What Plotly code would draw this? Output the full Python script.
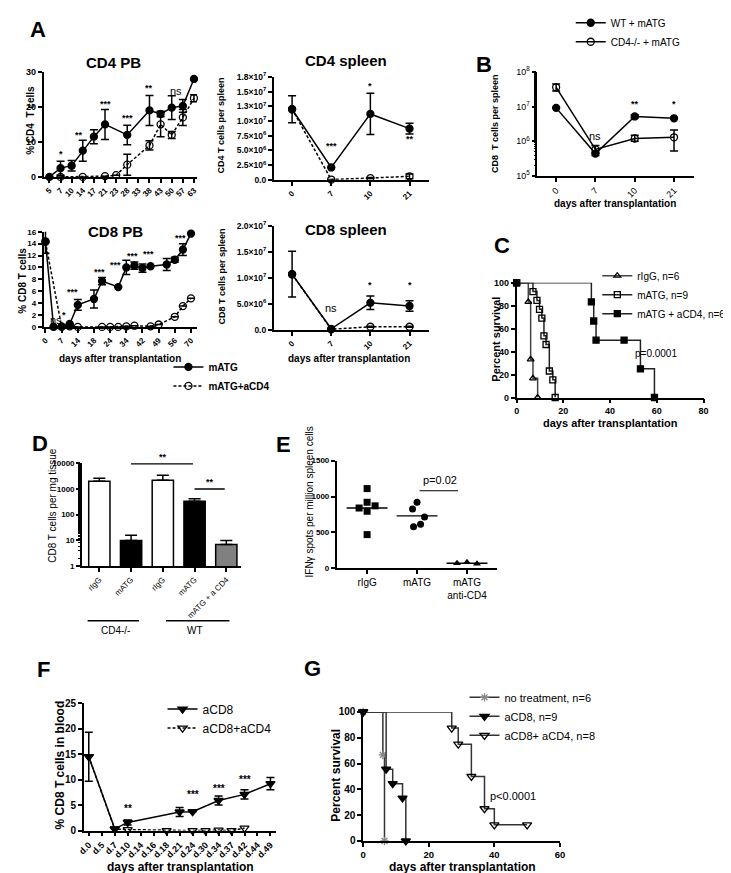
import math
import plotly.graph_objects as go

W, H = 731, 873
FONT = "Liberation Sans, Arial, sans-serif"

# ---------------- DATA ----------------
# A: CD4 PB (% CD4 T cells)
cd4pb_days = ["5", "7", "10", "14", "17", "21", "23", "28", "33", "38", "43", "50", "57", "63"]
cd4pb_matg = [0, 2.5, 3.2, 7.5, 11.5, 15, None, 12, None, 19, 18, 19.8, 20.3, 28]
cd4pb_matg_err = [0, 2.0, 1.5, 3.0, 2.0, 4.3, 0, 2.8, 0, 4.3, 0.8, 3.4, 1.8, 0]
cd4pb_acd4 = [None, 0, None, 0, None, 0.2, 0.5, 3.5, None, 9, 15, 12, 17, 22.5]
cd4pb_acd4_err = [0, 0, 0, 0, 0, 0, 0, 3.0, 0, 1.3, 3.5, 1.0, 2.3, 1.0]
cd4pb_sig = [("*", 1, 6.4), ("**", 2.7, 12.1), ("***", 5, 20.7), ("***", 7, 16.8), ("**", 9, 25.5), ("ns", 11.35, 24.7)]

# A: CD4 spleen
spl_days = ["0", "7", "10", "21"]
cd4spl_matg = [1.2e7, 2.1e6, 1.12e7, 8.7e6]
cd4spl_matg_err = [2.3e6, 0, 3.5e6, 0.9e6]
cd4spl_acd4 = [1.2e7, 0.05e6, 0.3e6, 0.6e6]
cd4spl_acd4_err = [0, 0, 0.1e6, 0.4e6]
cd4spl_sig = [("***", 1, 5.8e6), ("*", 2, 15.9e6), ("**", 3, 6.9e6)]

# A: CD8 PB (% CD8 T cells)
cd8pb_days = ["0", "5", "7", "10", "14", "16", "18", "21", "24", "30", "34", "37", "42", "44", "49", "51", "56", "63", "70"]
cd8pb_matg = [14.4, 0, 0.1, 0.5, 3.7, None, 4.7, 7.7, None, 6.7, 10.0, 10.3, 9.9, 10.2, None, 10.5, 11.3, 13.0, 15.7]
cd8pb_matg_err = [2.0, 0, 0, 0, 0.9, 0, 1.5, 0.6, 0, 0, 1.2, 0.6, 0.7, 0, 0, 1.0, 0.4, 1.0, 0]
cd8pb_acd4 = [14.3, None, 0, 0.1, 0, None, None, 0, 0, 0, 0.1, 0.2, None, 0.1, 0.4, None, 1.7, 3.5, 4.8]
cd8pb_acd4_err = [0] * 19
cd8pb_sig = [("ns", 1.27, 1.2), ("*", 2.3, 2.0), ("***", 3.3, 5.8), ("***", 6.7, 9.2), ("***", 8.7, 10.4),
             ("***", 10.8, 11.9), ("***", 12.8, 12.2), ("***", 16.7, 14.9)]

# A: CD8 spleen
cd8spl_matg = [1.07e7, 0.2e6, 5.2e6, 4.6e6]
cd8spl_matg_err = [4.4e6, 0, 1.3e6, 1.0e6]
cd8spl_acd4 = [1.07e7, 0.1e6, 0.6e6, 0.6e6]
cd8spl_acd4_err = [0, 0, 0.1e6, 0.1e6]
cd8spl_sig = [("ns", 1, 4.3e6), ("*", 2, 8.6e6), ("*", 3, 8.6e6)]

# B: CD8 T cells per spleen (log)
b_days = ["0", "7", "10", "21"]
b_wt = [9.2e6, 4.4e5, 5.2e6, 4.6e6]
b_wt_up = [0, 0.5e5, 0.6e6, 0]
b_wt_dn = [0, 0.5e5, 0.5e6, 0]
b_ko = [3.6e7, 5.8e5, 1.2e6, 1.3e6]
b_ko_up = [0.9e7, 1.7e5, 0.3e6, 0.8e6]
b_ko_dn = [0.8e7, 1.3e5, 0.2e6, 0.78e6]
b_sig = [("ns", 1, 1.4e6), ("**", 2, 1.2e7), ("*", 3, 1.2e7)]

# C: survival
c_rigg_t = [0, 5, 6, 7, 9]
c_rigg_s = [100, 83.3, 33.3, 16.7, 0]
c_matg_t = [0, 7, 8.7, 9.8, 10.8, 11.7, 12.6, 14, 15.5, 16.5]
c_matg_s = [100, 92.3, 84.6, 76.9, 69.2, 53.8, 46.2, 23.1, 15.4, 0]
c_acd4_t = [0, 32, 33, 34, 46, 53, 59]
c_acd4_s = [100, 83.3, 66.7, 50, 50, 25, 0]

# D: CD8 T cells per mg tissue
d_labels = ["rIgG", "mATG", "rIgG", "mATG", "mATG + a CD4"]
d_values = [2000, 10, 2200, 330, 7]
d_err = [600, 6, 1200, 90, 3]
d_colors = ["white", "black", "white", "black", "#808080"]

# E: IFNg spots
e_cats = ["rIgG", "mATG", "mATG<br>anti-CD4"]
e_rigg = [1110, 840, 920, 870, 795, 470]
e_rigg_jit = [0, -0.16, 0, 0.16, 0, 0]
e_matg = [920, 825, 715, 580, 615]
e_matg_jit = [0, -0.09, 0.15, -0.07, 0.07]
e_acd4 = [70, 85, 65]
e_acd4_jit = [-0.2, 0, 0.2]
e_medians = [840, 730, 72]

# F: % CD8 T cells in blood
f_days = ["d.0", "d.5", "d.7", "d.10", "d.14", "d.16", "d.18", "d.21", "d.24", "d.30", "d.34", "d.37", "d.42", "d.44", "d.49"]
f_acd8 = [14.5, None, 0.35, 1.6, None, None, None, 3.65, 3.7, None, 5.9, None, 7.1, None, 9.2]
f_acd8_err = [4.8, 0, 0, 0.5, 0, 0, 0, 0.9, 0, 0, 0.9, 0, 0.9, 0, 1.2]
f_both = [14.5, None, 0.3, 0.2, None, None, 0, None, 0, 0, 0.1, 0, 0.5, None, None]
f_sig = [("**", 3, 4.3), ("***", 8, 7.1), ("***", 10, 8.3), ("***", 12, 10.1)]

# G: survival
g_none_t = [0, 6, 6.5]
g_none_s = [100, 66.7, 0]
g_acd8_t = [0, 7, 9, 12, 13]
g_acd8_s = [100, 55.6, 44.4, 33.3, 0]
g_both_t = [0, 27, 29, 33, 37, 40, 50]
g_both_s = [100, 87.5, 75, 50, 25, 12.5, 12.5]

# ---------------- HELPERS ----------------
def PX(p):
    return p / W


def PY(p):
    return 1 - p / H


def TF(size, bold=True):
    return dict(family=FONT, size=size, color="#000000", weight="bold" if bold else "normal")


layout = dict(width=W, height=H, margin=dict(l=0, r=0, t=0, b=0),
              paper_bgcolor="white", plot_bgcolor="white",
              font=dict(family=FONT, color="black"), annotations=[], shapes=[])


def set_axes(n, xl, xr, yt, yb, xrange, yrange, xkw=None, ykw=None):
    base = dict(showline=True, linecolor="black", linewidth=1.5, ticks="outside", ticklen=4,
                tickwidth=1.5, tickcolor="black", showgrid=False, zeroline=False)
    s = "" if n == 1 else str(n)
    xa = dict(base, domain=[PX(xl), PX(xr)], range=xrange, anchor="y" + s)
    ya = dict(base, domain=[PY(yb), PY(yt)], range=yrange, anchor="x" + s)
    xa.update(xkw or {})
    ya.update(ykw or {})
    layout["xaxis" + s] = xa
    layout["yaxis" + s] = ya


def ann(text, x, y, size, bold=True, angle=0, xanchor="center", yanchor="middle"):
    layout["annotations"].append(dict(text=text, x=PX(x), y=PY(y), xref="paper", yref="paper",
                                      showarrow=False, font=TF(size, bold), textangle=angle,
                                      xanchor=xanchor, yanchor=yanchor))


def sig(text, n, x, y, size=9, bold=True):
    s = "" if n == 1 else str(n)
    if text == "ns":
        size, bold = 11, False
    layout["annotations"].append(dict(text=text, x=x, y=y, xref="x" + s, yref="y" + s,
                                      showarrow=False, font=TF(size, bold)))


traces = []


def series(x, y, up, dn, n, name, symbol, color, dash="solid", legend="legend", showlegend=False,
           size=7, shape="linear", lcolor="black"):
    s = "" if n == 1 else str(n)
    t = go.Scatter(x=x, y=y, xaxis="x" + s, yaxis="y" + s, mode="lines+markers", name=name,
                   connectgaps=True, cliponaxis=False, line=dict(color=lcolor, width=1.5, dash=dash, shape=shape),
                   marker=dict(symbol=symbol, size=size, color=color, line=dict(color="black", width=1.3)),
                   legend=legend, showlegend=showlegend)
    if up is not None:
        t.error_y = dict(type="data", symmetric=False, array=up, arrayminus=dn, color="black",
                         thickness=1.5, width=4)
    traces.append(t)


DASH = "3px,2px"

# ---------------- A: CD4 PB ----------------
cat = lambda arr: dict(type="category", categoryorder="array", categoryarray=arr)
set_axes(1, 29, 185, 53, 160, [-0.53, 13.27], [0, 30],
         xkw=dict(cat(cd4pb_days), tickangle=-45, tickfont=TF(8)),
         ykw=dict(tickvals=[0, 10, 20, 30], tickfont=TF(9)))
series(cd4pb_days, cd4pb_matg, cd4pb_matg_err, cd4pb_matg_err, 1, "mATG", "circle", "black", showlegend=True)
series(cd4pb_days, cd4pb_acd4, cd4pb_acd4_err, cd4pb_acd4_err, 1, "mATG+aCD4", "circle-open", "black",
       dash=DASH, showlegend=True)
for s_, x_, y_ in cd4pb_sig:
    sig(s_, 1, x_, y_)

# ---------------- A: CD4 spleen ----------------
spl4_ticks = [0, 2.5e6, 5e6, 7.5e6, 1e7, 1.25e7, 1.5e7, 1.75e7]
spl4_text = ["0.0", "2.5×10<sup>6</sup>", "5.0×10<sup>6</sup>", "7.5×10<sup>6</sup>", "1.0×10<sup>7</sup>",
             "1.3×10<sup>7</sup>", "1.5×10<sup>7</sup>", "1.8×10<sup>7</sup>"]
set_axes(2, 263, 421, 58, 163, [-0.47, 3.5], [0, 1.75e7],
         xkw=dict(cat(spl_days), tickangle=-45, tickfont=TF(8)),
         ykw=dict(tickvals=spl4_ticks, ticktext=spl4_text, tickfont=TF(8.5)))
series(spl_days, cd4spl_matg, cd4spl_matg_err, cd4spl_matg_err, 2, "mATG", "circle", "black")
series(spl_days, cd4spl_acd4, cd4spl_acd4_err, cd4spl_acd4_err, 2, "mATG+aCD4", "circle-open", "black", dash=DASH)
for s_, x_, y_ in cd4spl_sig:
    sig(s_, 2, x_, y_)

# ---------------- A: CD8 PB ----------------
set_axes(3, 29, 185, 216, 313, [-0.24, 18.74], [0, 16],
         xkw=dict(cat(cd8pb_days), tickangle=-45, tickfont=TF(8)),
         ykw=dict(tickvals=list(range(0, 17, 2)), tickfont=TF(8)))
series(cd8pb_days, cd8pb_matg, cd8pb_matg_err, cd8pb_matg_err, 3, "mATG", "circle", "black")
series(cd8pb_days, cd8pb_acd4, cd8pb_acd4_err, cd8pb_acd4_err, 3, "mATG+aCD4", "circle-open", "black", dash=DASH)
for s_, x_, y_ in cd8pb_sig:
    sig(s_, 3, x_, y_)

# ---------------- A: CD8 spleen ----------------
spl8_ticks = [0, 5e6, 1e7, 1.5e7, 2e7]
spl8_text = ["0.0", "5.0×10<sup>6</sup>", "1.0×10<sup>7</sup>", "1.5×10<sup>7</sup>", "2.0×10<sup>7</sup>"]
set_axes(4, 263, 421, 210, 316, [-0.47, 3.5], [0, 2e7],
         xkw=dict(cat(spl_days), tickangle=-45, tickfont=TF(8)),
         ykw=dict(tickvals=spl8_ticks, ticktext=spl8_text, tickfont=TF(8.5)))
series(spl_days, cd8spl_matg, cd8spl_matg_err, cd8spl_matg_err, 4, "mATG", "circle", "black")
series(spl_days, cd8spl_acd4, cd8spl_acd4_err, cd8spl_acd4_err, 4, "mATG+aCD4", "circle-open", "black", dash=DASH)
for s_, x_, y_ in cd8spl_sig:
    sig(s_, 4, x_, y_)

# ---------------- B ----------------
set_axes(5, 531, 690, 53, 159, [-0.48, 3.5], [5, 8],
         xkw=dict(cat(b_days), tickangle=-45, tickfont=TF(9, False)),
         ykw=dict(type="log", tickvals=[1e5, 1e6, 1e7, 1e8],
                  ticktext=["10<sup>5</sup>", "10<sup>6</sup>", "10<sup>7</sup>", "10<sup>8</sup>"],
                  tickfont=TF(9, False),
                  minor=dict(ticks="outside", ticklen=2, tickwidth=1, tickcolor="black", showgrid=False)))
series(b_days, b_wt, b_wt_up, b_wt_dn, 5, "WT + mATG", "circle", "black", legend="legend2", showlegend=True)
series(b_days, b_ko, b_ko_up, b_ko_dn, 5, "CD4-/- + mATG", "circle-open", "black", legend="legend2", showlegend=True)
for s_, x_, y_ in b_sig:
    sig(s_, 5, x_, math.log10(y_))

# ---------------- C ----------------
set_axes(6, 510, 700, 268, 385, [0, 80], [0, 100],
         xkw=dict(tickvals=[0, 20, 40, 60, 80], tickfont=TF(9)),
         ykw=dict(tickvals=[0, 20, 40, 60, 80, 100], tickfont=TF(9)))
series(c_rigg_t, c_rigg_s, None, None, 6, "rIgG, n=6", "triangle-up-open", "black", legend="legend3",
       showlegend=True, size=6, shape="hv", lcolor="#444")
series(c_matg_t, c_matg_s, None, None, 6, "mATG, n=9", "square-open", "black", legend="legend3",
       showlegend=True, size=6, shape="hv", lcolor="#222")
series(c_acd4_t, c_acd4_s, None, None, 6, "mATG + aCD4, n=6", "square", "black", legend="legend3",
       showlegend=True, size=6, shape="hv", lcolor="#222")
layout["annotations"].append(dict(text="p=0.0001", x=50, y=38, xref="x6", yref="y6", showarrow=False,
                                  font=TF(10, False), xanchor="left"))

# ---------------- D ----------------
set_axes(7, 68, 230, 452, 557, [-0.55, 4.47], [0, 4],
         xkw=dict(tickvals=list(range(5)), ticktext=d_labels, tickangle=-45, tickfont=TF(8, False)),
         ykw=dict(type="log", tickvals=[1, 10, 100, 1000, 10000], ticktext=["1", "10", "100", "1000", "10000"],
                  tickfont=TF(8), minor=dict(ticks="outside", ticklen=2, tickwidth=1, tickcolor="black",
                                             showgrid=False)))
traces.append(go.Bar(x=list(range(5)), y=d_values, xaxis="x7", yaxis="y7", width=0.67,
                     marker=dict(color=d_colors, line=dict(color="black", width=1.5)),
                     error_y=dict(type="data", symmetric=False, array=d_err, arrayminus=[0] * 5,
                                  color="black", thickness=1.5, width=6), showlegend=False))
for x0, x1, ypx, txt in [(1, 3, 452.7, "**"), (3, 4, 478.3, "**")]:
    layout["shapes"].append(dict(type="line", xref="x7", yref="paper", x0=x0, x1=x1 - 0.05, y0=PY(ypx),
                                 y1=PY(ypx), line=dict(color="black", width=1.3)))
    layout["annotations"].append(dict(text=txt, x=(x0 + x1) / 2, y=PY(ypx - 7), xref="x7", yref="paper",
                                      showarrow=False, font=TF(9)))
for x0, x1, txt, xc in [(-0.37, 1.25, "CD4-/-", 102), (2.1, 4.1, "WT", 183)]:
    layout["shapes"].append(dict(type="line", xref="x7", yref="paper", x0=x0, x1=x1, y0=PY(612.7),
                                 y1=PY(612.7), line=dict(color="black", width=1.5)))
    ann(txt, xc, 623, 10, bold=False)

# ---------------- E ----------------
set_axes(8, 327, 490, 449.3, 559.3, [-0.61, 2.6], [0, 1500],
         xkw=dict(tickvals=[0, 1, 2], ticktext=e_cats, tickfont=TF(10, False)),
         ykw=dict(tickvals=[0, 500, 1000, 1500], tickfont=TF(8)))
for i, (vals, jit, sym) in enumerate([(e_rigg, e_rigg_jit, "square"), (e_matg, e_matg_jit, "circle"),
                                      (e_acd4, e_acd4_jit, "triangle-up")]):
    traces.append(go.Scatter(x=[i + j for j in jit], y=vals, xaxis="x8", yaxis="y8", mode="markers",
                             marker=dict(symbol=sym, size=7, color="black"), showlegend=False, cliponaxis=False))
    traces.append(go.Scatter(x=[i - 0.41, i + 0.41], y=[e_medians[i]] * 2, xaxis="x8", yaxis="y8",
                             mode="lines", line=dict(color="black", width=1.3), showlegend=False))
layout["shapes"].append(dict(type="line", xref="x8", yref="y8", x0=1.05, x1=1.82, y0=1080, y1=1080,
                             line=dict(color="black", width=1)))
layout["annotations"].append(dict(text="p=0.02", x=1.45, y=1230, xref="x8", yref="y8", showarrow=False,
                                  font=TF(11, False)))

# ---------------- F ----------------
set_axes(9, 70, 265, 696.7, 826.7, [-0.38, 14.4], [0, 25],
         xkw=dict(cat(f_days), tickangle=-45, tickfont=TF(9)),
         ykw=dict(tickvals=[0, 5, 10, 15, 20, 25], tickfont=TF(10)))
series(f_days, f_acd8, f_acd8_err, f_acd8_err, 9, "aCD8", "triangle-down", "black", legend="legend4",
       showlegend=True, size=8)
series(f_days, f_both, None, None, 9, "aCD8+aCD4", "triangle-down-open", "black", dash=DASH,
       legend="legend4", showlegend=True, size=8)
for s_, x_, y_ in f_sig:
    sig(s_, 9, x_, y_, size=10)

# ---------------- G ----------------
set_axes(10, 354, 554, 705.7, 837.3, [0, 60], [0, 100],
         xkw=dict(tickvals=[0, 20, 40, 60], tickfont=TF(9.5)),
         ykw=dict(tickvals=[0, 20, 40, 60, 80, 100], tickfont=TF(10)))
series(g_none_t, g_none_s, None, None, 10, "no treatment, n=6", "asterisk-open", "#888", legend="legend5",
       showlegend=True, size=7, shape="hv", lcolor="#333")
series(g_acd8_t, g_acd8_s, None, None, 10, "aCD8, n=9", "triangle-down", "black", legend="legend5",
       showlegend=True, size=8, shape="hv", lcolor="#333")
series(g_both_t, g_both_s, None, None, 10, "aCD8+ aCD4, n=8", "triangle-down-open", "black", legend="legend5",
       showlegend=True, size=8, shape="hv", lcolor="#333")
layout["annotations"].append(dict(text="p<0.0001", x=38, y=35, xref="x10", yref="y10", showarrow=False,
                                  font=TF(11, False), xanchor="left"))

# ---------------- Legends ----------------
def legend(xtext, ytop, size, bold):
    return dict(x=PX(xtext - 40), y=PY(ytop), xanchor="left", yanchor="top", bgcolor="rgba(0,0,0,0)",
                font=TF(size, bold), itemwidth=30, tracegroupgap=0)


layout["legend"] = legend(196, 339, 10, True)
layout["legend2"] = legend(605, -12, 10, False)
layout["legend3"] = legend(632, 246, 10, False)
layout["legend4"] = legend(190, 688, 12, False)
layout["legend5"] = legend(497, 676, 11, False)

# ---------------- Text: panel letters, titles, axis titles ----------------
for L, x, y in [("A", 23.5, 10), ("B", 477, 45), ("C", 495, 230), ("D", 25, 432), ("E", 272.5, 433),
                ("F", 29, 662), ("G", 302.5, 661)]:
    ann(L, x, y, 22)
for T, x, y in [("CD4 PB", 100, 43), ("CD4 spleen", 337, 41), ("CD8 PB", 102, 216), ("CD8 spleen", 337, 214)]:
    ann(T, x, y, 15)
for x, y, s in [(107, 345, 10), (340, 345, 10), (610, 187, 10), (605, 411, 11), (168, 864, 12), (455, 864, 12)]:
    ann("days after transplantation", x, y, s)
ann("% CD4  T cells", 15, 102, 10, angle=-90)
ann("CD4 T cells per spleen", 209, 108, 9, angle=-90)
ann("% CD8 T cells", 8, 266, 10, angle=-90)
ann("CD8 T cells per spleen", 210, 262, 9, angle=-90)
ann("CD8  T cells per spleen", 488, 105, 9, angle=-90)
ann("Percent survival", 489, 325, 11, angle=-90)
ann("CD8 T cells per mg tissue", 38, 495, 10, bold=False, angle=-90)
ann("IFNγ spots per million spleen cells", 299, 492, 10, bold=False, angle=-90)
ann("% CD8 T cells in blood", 46, 760, 12, angle=-90)
ann("Percent survival", 326, 770, 12, angle=-90)

fig = go.Figure(data=traces)
fig.update_layout(**layout)
fig.write_html("out.html")
